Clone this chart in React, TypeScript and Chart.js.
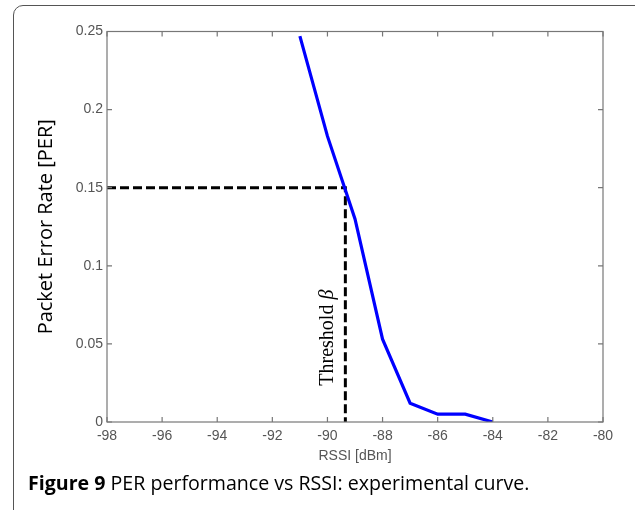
import React, { useEffect, useRef } from "react";
import { Chart, registerables } from "chart.js";

Chart.register(...registerables);

const rssi = [-91, -90, -89, -88, -87, -86, -85, -84];
const per = [0.247, 0.183, 0.13, 0.053, 0.012, 0.005, 0.005, 0];
const xTicks = [-98, -96, -94, -92, -90, -88, -86, -84, -82, -80];
const yTicks = [0, 0.05, 0.1, 0.15, 0.2, 0.25];
const yTickLabels = ["0", "0.05", "0.1", "0.15", "0.2", "0.25"];
const thresholdX = -89.35;
const thresholdY = 0.15;
const thresholdLabelY = 0.054;

const framePlugin = {
  id: "frame",
  afterDatasetsDraw(chart: any) {
    const { ctx, chartArea, scales } = chart;
    const { left, right, top, bottom } = chartArea;
    ctx.save();
    ctx.strokeStyle = "#777";
    ctx.lineWidth = 1.2;
    ctx.strokeRect(left, top, right - left, bottom - top);
    const tl = 5;
    ctx.beginPath();
    for (const v of xTicks) {
      const px = scales.x.getPixelForValue(v);
      ctx.moveTo(px, bottom);
      ctx.lineTo(px, bottom - tl);
      ctx.moveTo(px, top);
      ctx.lineTo(px, top + tl);
    }
    for (const v of yTicks) {
      const py = scales.y.getPixelForValue(v);
      ctx.moveTo(left, py);
      ctx.lineTo(left + tl, py);
      ctx.moveTo(right, py);
      ctx.lineTo(right - tl, py);
    }
    ctx.stroke();
    // threshold label
    const tx = scales.x.getPixelForValue(thresholdX) - 18;
    const ty = scales.y.getPixelForValue(thresholdLabelY);
    ctx.translate(tx, ty);
    ctx.rotate(-Math.PI / 2);
    ctx.fillStyle = "#000";
    ctx.textBaseline = "middle";
    const f1 = "20px 'Liberation Serif', 'DejaVu Serif', serif";
    const f2 = "italic 20px 'Liberation Serif', 'DejaVu Serif', serif";
    ctx.font = f1;
    const t1 = "Threshold ";
    const w1 = ctx.measureText(t1).width;
    ctx.font = f2;
    const w2 = ctx.measureText("β").width;
    const total = w1 + w2;
    ctx.font = f1;
    ctx.textAlign = "left";
    ctx.fillText(t1, -total / 2, 0);
    ctx.font = f2;
    ctx.fillText("β", -total / 2 + w1, 0);
    ctx.restore();
  },
};

function ChartView() {
  const ref = useRef<HTMLCanvasElement>(null);
  useEffect(() => {
    if (!ref.current) return;
    const chart = new Chart(ref.current, {
      type: "scatter",
      data: {
        datasets: [
          {
            label: "PER",
            data: rssi.map((x, i) => ({ x, y: per[i] })),
            showLine: true,
            borderColor: "#0000ff",
            borderWidth: 3.2,
            pointRadius: 0,
            tension: 0,
          },
          {
            label: "threshold",
            data: [
              { x: xTicks[0], y: thresholdY },
              { x: thresholdX, y: thresholdY },
              { x: thresholdX, y: 0 },
            ],
            showLine: true,
            borderColor: "#000",
            borderWidth: 3,
            borderDash: [9, 4],
            pointRadius: 0,
          },
        ],
      },
      options: {
        responsive: false,
        animation: false,
        events: [],
        layout: { padding: { top: 31.5, right: 32, left: 0, bottom: 0 } },
        plugins: { legend: { display: false }, tooltip: { enabled: false } },
        scales: {
          x: {
            type: "linear",
            min: xTicks[0],
            max: xTicks[xTicks.length - 1],
            afterBuildTicks: (s: any) => {
              s.ticks = xTicks.map((v) => ({ value: v }));
            },
            afterFit: (s: any) => {
              s.height = 88;
            },
            grid: { display: false, drawTicks: false },
            border: { display: false },
            ticks: {
              padding: 6,
              color: "#555",
              font: { family: "'Liberation Sans', Arial, sans-serif", size: 14 },
              maxRotation: 0,
              autoSkip: false,
              callback: (v: any) => String(v),
            },
            title: {
              display: true,
              text: "RSSI [dBm]",
              color: "#555",
              font: { family: "'Liberation Sans', Arial, sans-serif", size: 14 },
              padding: { top: 0, bottom: 45 },
            },
          },
          y: {
            type: "linear",
            min: yTicks[0],
            max: yTicks[yTicks.length - 1],
            afterBuildTicks: (s: any) => {
              s.ticks = yTicks.map((v) => ({ value: v }));
            },
            afterFit: (s: any) => {
              s.width = 107;
            },
            grid: { display: false, drawTicks: false },
            border: { display: false },
            ticks: {
              padding: 4,
              color: "#555",
              font: { family: "'Liberation Sans', Arial, sans-serif", size: 14 },
              autoSkip: false,
              callback: (v: any) => {
                const i = yTicks.indexOf(Number(v));
                return i >= 0 ? yTickLabels[i] : String(v);
              },
            },
            title: {
              display: true,
              text: "Packet Error Rate [PER]",
              color: "#000",
              font: { family: "'Open Sans', 'Noto Sans', sans-serif", size: 20 },
              padding: { top: 34, bottom: 0 },
            },
          },
        },
      },
      plugins: [framePlugin],
    });
    return () => chart.destroy();
  }, []);
  return (
    <canvas
      ref={ref}
      width={635}
      height={510}
      style={{ position: "absolute", left: 0, top: 0, width: 635, height: 510 }}
    />
  );
}

export default function App() {
  return (
    <div
      style={{
        position: "absolute",
        left: 0,
        top: 0,
        width: 635,
        height: 510,
        overflow: "hidden",
        background: "#fff",
      }}
    >
      <div
        style={{
          position: "absolute",
          left: 13,
          top: 5,
          width: 640,
          height: 540,
          border: "1.2px solid #555",
          borderRadius: 10,
          boxSizing: "border-box",
        }}
      />
      <ChartView />
      <div
        style={{
          position: "absolute",
          left: 28,
          top: 469,
          fontFamily: "'Open Sans', 'Noto Sans', sans-serif",
          fontSize: 19.6,
          color: "#000",
          whiteSpace: "nowrap",
          lineHeight: "28px",
        }}
      >
        <b>Figure 9</b> PER performance vs RSSI: experimental curve.
      </div>
    </div>
  );
}
